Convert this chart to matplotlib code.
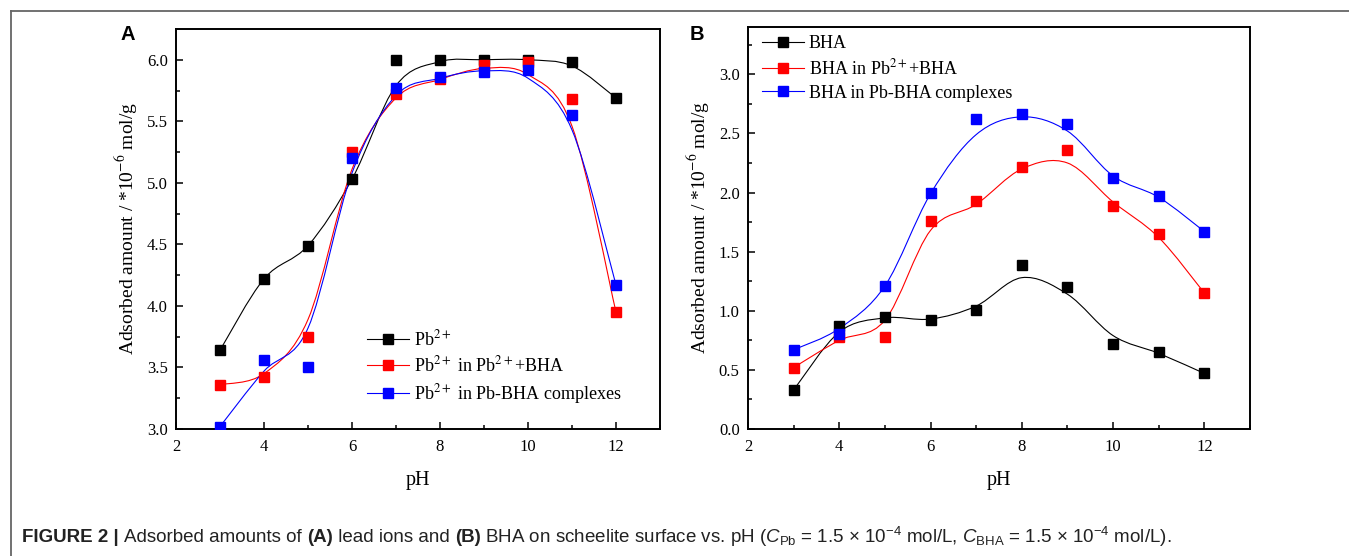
import matplotlib
matplotlib.use("Agg")
import matplotlib.pyplot as plt
import numpy as np
from matplotlib.path import Path
from matplotlib.patches import PathPatch
from matplotlib.lines import Line2D
from matplotlib.ticker import MultipleLocator, FormatStrFormatter

plt.rcParams['font.family'] = 'Liberation Serif'
plt.rcParams['mathtext.fontset'] = 'stix'

# pH values shared by every series
ph = [3, 4, 5, 6, 7, 8, 9, 10, 11, 12]

# Panel A - adsorbed lead (markers)
pb_only = [3.64, 4.22, 4.49, 5.03, 6.00, 6.00, 6.00, 6.00, 5.98, 5.69]
pb_mix = [3.36, 3.42, 3.75, 5.25, 5.72, 5.84, 5.96, 5.98, 5.68, 3.95]
pb_cplx = [3.02, 3.56, 3.50, 5.20, 5.77, 5.86, 5.90, 5.92, 5.55, 4.17]
# Panel A - smoothed curves
pb_only_fit = [3.64, 4.22, 4.49, 5.03, 5.79, 5.985, 6.00, 6.00, 5.95, 5.69]
pb_mix_fit = [3.36, 3.45, 3.89, 5.11, 5.69, 5.84, 5.93, 5.88, 5.46, 3.95]
pb_cplx_fit = [3.02, 3.47, 3.82, 5.08, 5.71, 5.85, 5.91, 5.85, 5.43, 4.17]

# Panel B - adsorbed BHA (markers)
bha_only = [0.33, 0.87, 0.95, 0.92, 1.01, 1.39, 1.20, 0.72, 0.65, 0.47]
bha_mix = [0.52, 0.78, 0.78, 1.76, 1.93, 2.22, 2.36, 1.89, 1.65, 1.15]
bha_cplx = [0.67, 0.80, 1.21, 2.00, 2.62, 2.66, 2.58, 2.12, 1.97, 1.67]
# Panel B - smoothed curves
bha_only_fit = [0.33, 0.82, 0.94, 0.93, 1.04, 1.28, 1.14, 0.79, 0.64, 0.47]
bha_mix_fit = [0.52, 0.75, 0.92, 1.68, 1.90, 2.20, 2.25, 1.92, 1.62, 1.15]
bha_cplx_fit = [0.67, 0.85, 1.21, 1.99, 2.49, 2.64, 2.52, 2.14, 1.96, 1.67]

labels_a = ['Pb$^{2+}$', 'Pb$^{2+}$ in Pb$^{2+}$+BHA', 'Pb$^{2+}$ in Pb-BHA complexes']
labels_b = ['BHA', 'BHA in Pb$^{2+}$+BHA', 'BHA in Pb-BHA complexes']
colors = ['black', '#ff0000', '#0000ff']


def smooth_path(x, y):
    # Catmull-Rom knots turned into cubic Bezier segments
    pts = np.column_stack([x, y]).astype(float)
    ext = np.vstack([pts[0], pts, pts[-1]])
    verts = [pts[0]]
    codes = [Path.MOVETO]
    for i in range(len(pts) - 1):
        p0, p1, p2, p3 = ext[i], ext[i + 1], ext[i + 2], ext[i + 3]
        verts += [p1 + (p2 - p0) / 6, p2 - (p3 - p1) / 6, p2]
        codes += [Path.CURVE4] * 3
    return Path(verts, codes)


def draw_panel(ax, marks, fits, labels, ylim, legend_xy):
    for m, f, c in zip(marks, fits, colors):
        ax.add_patch(PathPatch(smooth_path(ph, f), facecolor='none', edgecolor=c, lw=0.8))
        ax.plot(ph, m, 's', color=c, ms=6.5, ls='none', zorder=3)
    handles = [Line2D([], [], color=c, lw=0.8, marker='s', ms=7) for c in colors]
    ax.legend(handles, labels, loc='upper left', bbox_to_anchor=legend_xy, frameon=False,
              fontsize=13, handlelength=2.3, handletextpad=0.3, borderpad=0,
              borderaxespad=0, labelspacing=0.35)
    ax.set_xlim(2, 13)
    ax.set_ylim(*ylim)
    ax.xaxis.set_major_locator(MultipleLocator(2))
    ax.xaxis.set_minor_locator(MultipleLocator(1))
    ax.yaxis.set_major_locator(MultipleLocator(0.5))
    ax.yaxis.set_minor_locator(MultipleLocator(0.25))
    ax.yaxis.set_major_formatter(FormatStrFormatter('%.1f'))
    ax.tick_params(which='both', direction='in', top=False, right=False, labelsize=12)
    ax.tick_params(which='major', length=5, width=1.1)
    ax.tick_params(which='minor', length=3, width=1.1)
    ax.tick_params(axis='y', pad=6)
    ax.tick_params(axis='x', pad=7)
    for s in ax.spines.values():
        s.set_linewidth(1.4)
    ax.set_xlabel('pH', fontsize=14.5, labelpad=12)
    ax.set_ylabel('Adsorbed amount / *10$^{-6}$ mol/g', fontsize=14, labelpad=5)


W, H = 1349, 556
fig = plt.figure(figsize=(W / 100, H / 100), dpi=100)

ax_a = fig.add_axes([176 / W, 1 - 429 / H, 484 / W, 400 / H])
ax_b = fig.add_axes([748 / W, 1 - 429 / H, 502 / W, 402 / H])

draw_panel(ax_a, [pb_only, pb_mix, pb_cplx], [pb_only_fit, pb_mix_fit, pb_cplx_fit],
           labels_a, (3.0, 6.25), (0.395, 0.25))
draw_panel(ax_b, [bha_only, bha_mix, bha_cplx], [bha_only_fit, bha_mix_fit, bha_cplx_fit],
           labels_b, (0.0, 3.4), (0.028, 0.98))

# panel letters
fig.text(128 / W, 1 - 35 / H, 'A', fontsize=14.5, fontweight='bold', family='Liberation Sans',
         ha='center', va='center')
fig.text(697 / W, 1 - 35 / H, 'B', fontsize=14.5, fontweight='bold', family='Liberation Sans',
         ha='center', va='center')

# grey frame around the figure
fig.add_artist(Line2D([11 / W, 1], [1 - 11 / H, 1 - 11 / H], color='#666666', lw=1.3))
fig.add_artist(Line2D([11 / W, 11 / W], [0, 1 - 11 / H], color='#666666', lw=1.3))

# caption built from pieces so the bold parts can sit inline
plt.rcParams['mathtext.rm'] = 'Liberation Sans'
plt.rcParams['mathtext.it'] = 'Liberation Sans:italic'
plt.rcParams['mathtext.bf'] = 'Liberation Sans:bold'
pieces = [('FIGURE 2 | ', 'bold'), ('Adsorbed amounts of ', 'normal'), ('(A)', 'bold'),
          (' lead ions and ', 'normal'), ('(B)', 'bold'),
          (r' BHA on scheelite surface vs. pH ($C_{\mathrm{Pb}}$ = 1.5 $\times$ 10$^{-4}$ mol/L, '
           r'$C_{\mathrm{BHA}}$ = 1.5 $\times$ 10$^{-4}$ mol/L).', 'normal')]
renderer = fig.canvas.get_renderer()
x0 = 22 / W
for txt, wt in pieces:
    t = fig.text(x0, 1 - 537 / H, txt, fontsize=13.5, fontweight=wt, family='Liberation Sans',
                 color='#222222', va='center', ha='left', math_fontfamily='custom')
    bb = t.get_window_extent(renderer)
    x0 = bb.x1 / W

fig.savefig('out.png', dpi=100)
